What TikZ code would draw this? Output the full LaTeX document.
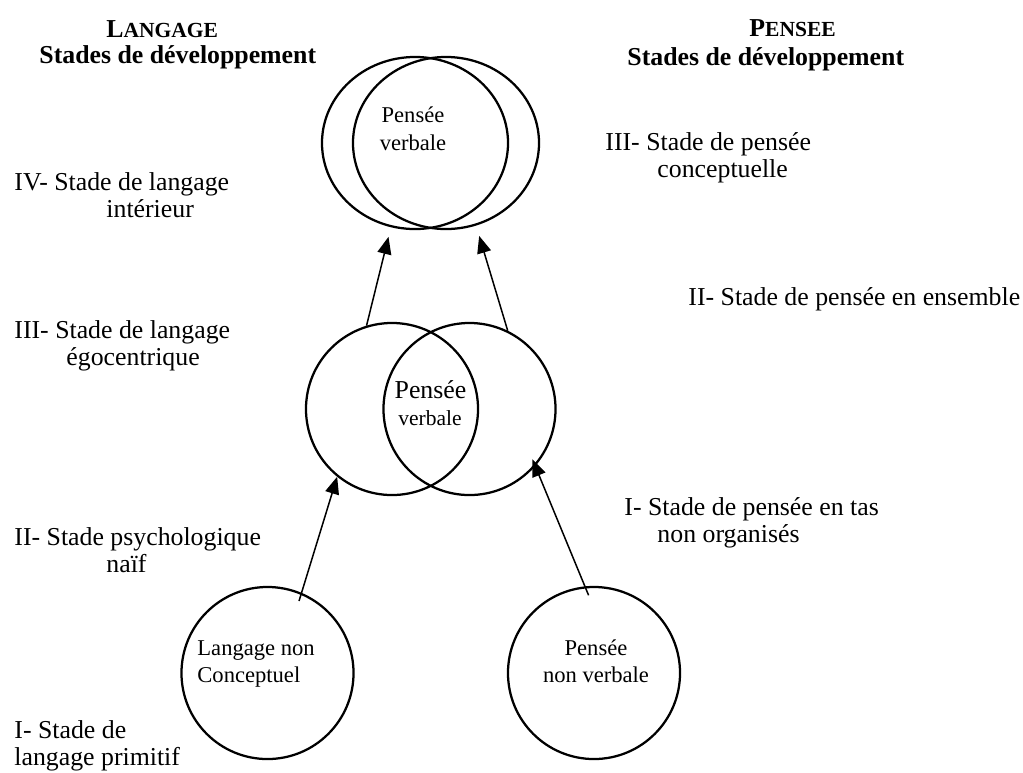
\documentclass[tikz,border=0pt]{standalone}
\usepackage{fontspec}
\setmainfont{Liberation Serif}
\usetikzlibrary{arrows.meta,shapes.geometric}

\begin{document}
\begin{tikzpicture}[x=0.465pt,y=-0.465pt,
  txt/.style={anchor=base west,inner sep=0pt,font=\fontsize{12}{14}\selectfont},
  title/.style={anchor=base west,inner sep=0pt,font=\fontsize{12}{14}\selectfont\bfseries},
  small/.style={anchor=base,inner sep=0pt,font=\fontsize{10.5}{12}\selectfont},
  ring/.style={draw,line width=1.05pt,circle,minimum size=80pt,inner sep=0pt},
  oval/.style={draw,line width=1.05pt,ellipse,minimum width=86.5pt,minimum height=80pt,inner sep=0pt},
  arr/.style={line width=0.7pt,-{Triangle[length=8pt,width=6.5pt]}}]

\useasboundingbox (0,0) rectangle (1023,772);

\node[title] (tLang) at (106,37) {L\fontsize{10}{12}\selectfont ANGAGE};
\node[title] (tLangSt) at (39,63) {Stades de développement};
\node[title] (tPens) at (749,36) {P\fontsize{10}{12}\selectfont ENSEE};
\node[title] (tPensSt) at (627,65) {Stades de développement};

\node[oval] (verbL) at (415,143) {};
\node[oval] (verbR) at (446,143) {};
\node[ring] (egoL) at (392,409) {};
\node[ring] (egoR) at (469.5,409) {};
\node[ring] (nonConc) at (267.5,673) {};
\node[ring] (nonVerb) at (594,673) {};

\node[small] (vHaut1) at (413,122) {Pensée};
\node[small] (vHaut2) at (413,150) {verbale};
\node[small,font=\fontsize{12}{14}\selectfont] (vMil1) at (430.5,398) {Pensée};
\node[small,font=\fontsize{10}{12}\selectfont] (vMil2) at (430,425) {verbale};
\node[small,anchor=base west] (nc1) at (197,655) {Langage non};
\node[small,anchor=base west] (nc2) at (197,682) {Conceptuel};
\node[small] (nv1) at (596,655) {Pensée};
\node[small] (nv2) at (596,682) {non verbale};

\node[txt] (lIVa) at (14,190) {IV- Stade de langage};
\node[txt] (lIVb) at (106,217) {intérieur};
\node[txt] (lIIIa) at (14,338) {III- Stade de langage};
\node[txt] (lIIIb) at (66,365) {égocentrique};
\node[txt] (lIIa) at (14,545) {II- Stade psychologique};
\node[txt] (lIIb) at (106,572) {naïf};
\node[txt] (lIa) at (14,738) {I- Stade de};
\node[txt] (lIb) at (14,765) {langage primitif};

\node[txt] (pIIIa) at (605,150) {III- Stade de pensée};
\node[txt] (pIIIb) at (657,177) {conceptuelle};
\node[txt] (pII) at (688,305) {II- Stade de pensée en ensemble};
\node[txt] (pIa) at (624,515) {I- Stade de pensée en tas};
\node[txt] (pIb) at (657,542) {non organisés};

\draw[arr,shorten <=-4pt] (nonConc.67) -- (egoL.231);
\draw[arr,shorten <=-4.5pt,shorten >=-3.5pt] (nonVerb.96) -- (egoR.319);
\draw[arr,shorten >=4.6pt] (egoL.107) -- (verbL.254);
\draw[arr,shorten >=5pt] (egoR.64) -- (verbR.290);

\end{tikzpicture}
\end{document}
